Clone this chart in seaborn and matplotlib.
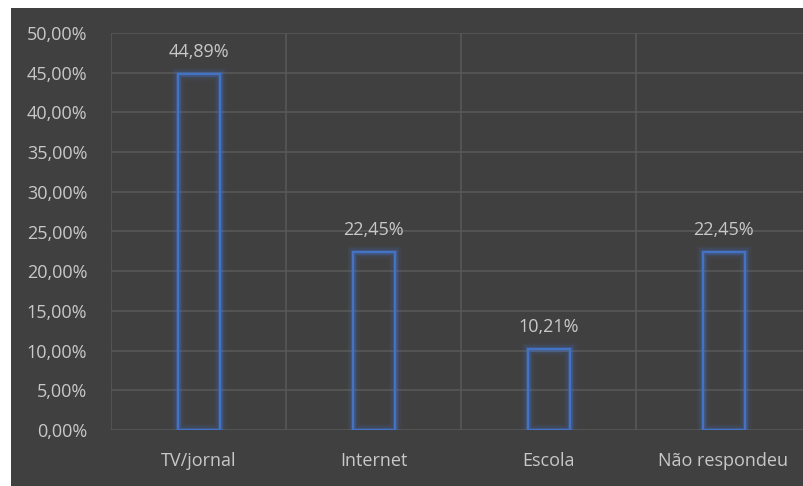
import matplotlib
matplotlib.use("Agg")
import matplotlib.pyplot as plt
import matplotlib.patheffects as pe
from matplotlib.patches import Rectangle
import pandas as pd
import seaborn as sns

categories = ["TV/jornal", "Internet", "Escola", "Não respondeu"]
values = [44.89, 22.45, 10.21, 22.45]
y_ticks = [0, 5, 10, 15, 20, 25, 30, 35, 40, 45, 50]

BG = "#404040"
GRID = "#595959"
TEXT = "#C8C8C8"
BLUE = "#4472C4"

sns.set_theme(style="dark")
plt.rcParams["font.family"] = ["Open Sans", "DejaVu Sans"]

df = pd.DataFrame({"categoria": categories, "valor": values})

fig = plt.figure(figsize=(8.04, 4.86), dpi=100, facecolor="white")
# dark chart area (white margin on left and top)
fig.add_artist(Rectangle((11 / 804, 0), 1, (486 - 8) / 486,
                         transform=fig.transFigure, facecolor=BG,
                         edgecolor="none", zorder=-10))
ax = fig.add_axes([111 / 804, 56 / 486, 700 / 804, 397 / 486])
ax.set_facecolor(BG)
ax.set_zorder(1)

sns.barplot(data=df, x="categoria", y="valor", ax=ax, width=0.24,
            fill=False, color=BLUE, linewidth=1.6, edgecolor=BLUE, zorder=3)

for patch in ax.patches:
    patch.set_path_effects([
        pe.Stroke(linewidth=9, foreground=BLUE, alpha=0.07),
        pe.Stroke(linewidth=6, foreground=BLUE, alpha=0.15),
        pe.Stroke(linewidth=3.5, foreground=BLUE, alpha=0.3),
        pe.Normal(),
    ])

labels = [f"{v:.2f}".replace(".", ",") + "%" for v in values]
ax.bar_label(ax.containers[0], labels=labels, padding=9, color=TEXT, fontsize=13)

ax.set_xlim(-0.5, 3.5)
ax.set_ylim(0, 50)
ax.set_yticks(y_ticks)
ax.set_yticklabels([f"{t:.2f}".replace(".", ",") + "%" for t in y_ticks])
ax.set_xticks(range(len(categories)))
ax.set_xticks([0.5, 1.5, 2.5], minor=True)
ax.set_xticklabels(categories)

ax.grid(False)
ax.grid(axis="y", which="major", color=GRID, linewidth=1.1, zorder=0)
ax.grid(axis="x", which="minor", color=GRID, linewidth=1.1, zorder=0)
ax.axvline(-0.5, color=GRID, linewidth=1.1, zorder=0)
ax.set_axisbelow(True)

ax.tick_params(axis="both", which="both", length=0, colors=TEXT, labelsize=13)
ax.tick_params(axis="y", pad=17)
ax.tick_params(axis="x", pad=16)
ax.set_xlabel("")
ax.set_ylabel("")
for s in ax.spines.values():
    s.set_visible(False)

fig.savefig("out.png", dpi=100, facecolor="white")
